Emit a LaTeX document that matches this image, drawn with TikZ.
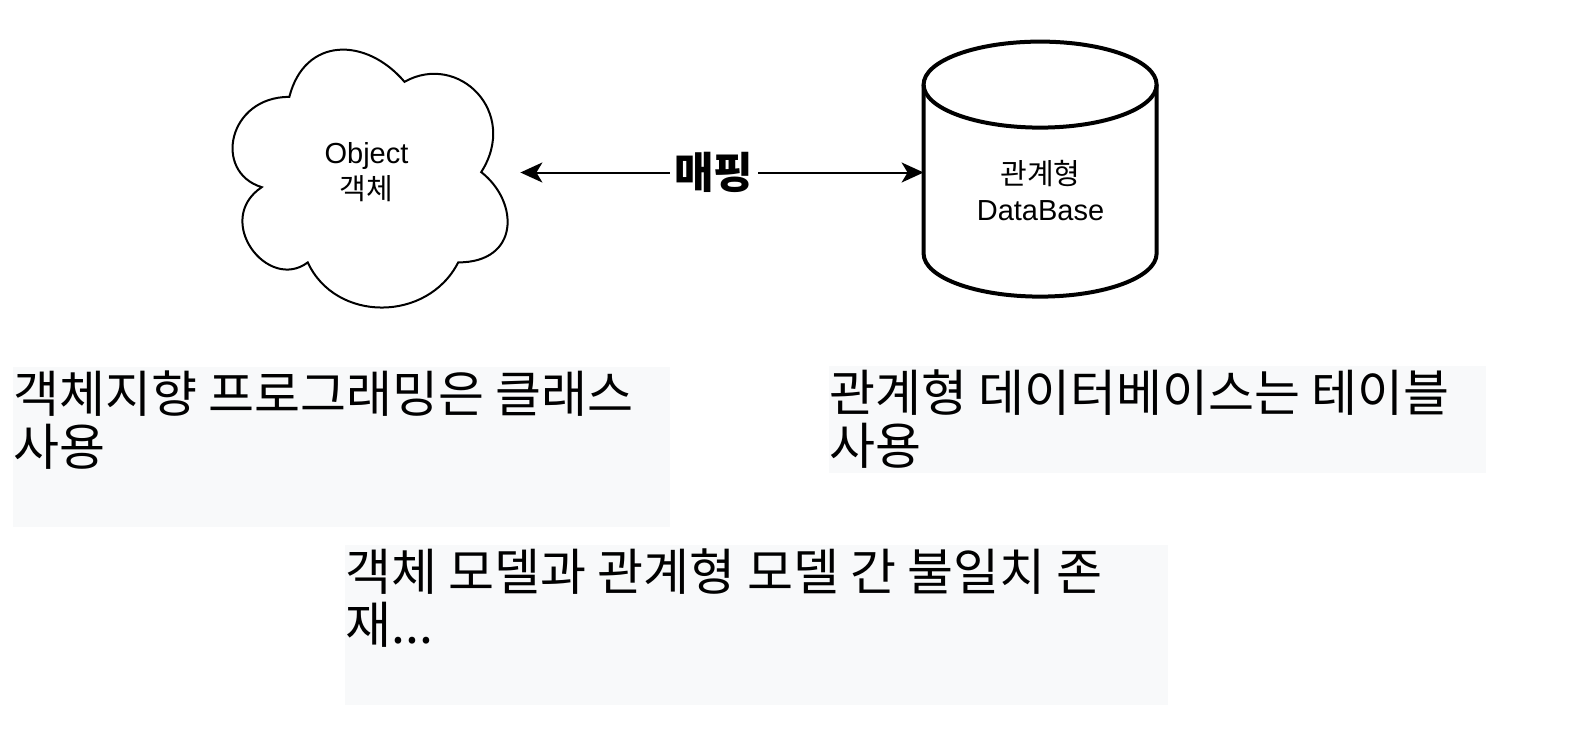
\documentclass[tikz,border=0pt]{standalone}
\usepackage{fontspec}
\setmainfont{Liberation Sans}
\newfontfamily\kr{Noto Sans CJK KR}
\usetikzlibrary{arrows.meta,positioning,calc}

\definecolor{notegray}{HTML}{F8F9FA}

\begin{document}
\begin{tikzpicture}[x=0.5pt,y=-0.5pt,>={Stealth[length=11pt,width=10pt,inset=3pt]},
                shape node/.style={inner sep=0pt,align=center,font=\fontsize{14.5}{18}\selectfont},
                note box/.style={fill=notegray,inner sep=0pt,anchor=north west,font=\kr\fontsize{25}{26.5}\selectfont}]
  \useasboundingbox (0,0) rectangle (1586,734);

  \node[shape node,minimum width=153.5pt,minimum height=150.5pt] (obj) at (366.5,172.5) {Object\\{\kr 객체}};
  \node[shape node,minimum width=116.5pt,minimum height=106pt] (db) at (1040.5,191) {{\kr 관계형}\\DataBase};

  % cloud outline
  \begin{scope}[shift={(obj.north west)},x=153.5pt,y=-150.5pt,line width=1pt]
    \draw (0.25,0.25) .. controls (0.05,0.25) and (0,0.5) .. (0.16,0.55)
      .. controls (0,0.66) and (0.18,0.9) .. (0.31,0.8)
      .. controls (0.4,1) and (0.7,1) .. (0.8,0.8)
      .. controls (1,0.8) and (1,0.6) .. (0.875,0.5)
      .. controls (1,0.3) and (0.8,0.1) .. (0.625,0.2)
      .. controls (0.5,0.05) and (0.3,0.05) .. (0.25,0.25) -- cycle;
  \end{scope}

  % cylinder outline
  \begin{scope}[shift={(db.north west)},line width=2pt]
    \draw (116.5,0) ellipse[x radius=116.5,y radius=43];
    \draw (0,0) -- (0,169) arc[start angle=180,end angle=0,x radius=116.5,y radius=43] -- (233,0);
  \end{scope}

  \path
    (obj.east) edge[<->,line width=1pt] node[pos=0.48,fill=white,inner xsep=2pt,inner ysep=1pt,font=\kr\bfseries\fontsize{21.5}{24}\selectfont] {매핑} (obj.east -| db.west)
  ;

  \node[note box] (oop) at (13,367) {\parbox[t][80pt][t]{328.5pt}{\vspace*{1.5pt}객체지향 프로그래밍은 클래스\\사용}};
  \node[note box] (rdb) at (829,366) {\parbox[t][53.5pt][t]{328.5pt}{\vspace*{1.5pt}관계형 데이터베이스는 테이블\\사용}};
  \node[note box] (gap) at (345,545) {\parbox[t][80pt][t]{411.5pt}{\vspace*{1.5pt}객체 모델과 관계형 모델 간 불일치 존\\재...}};
\end{tikzpicture}
\end{document}
